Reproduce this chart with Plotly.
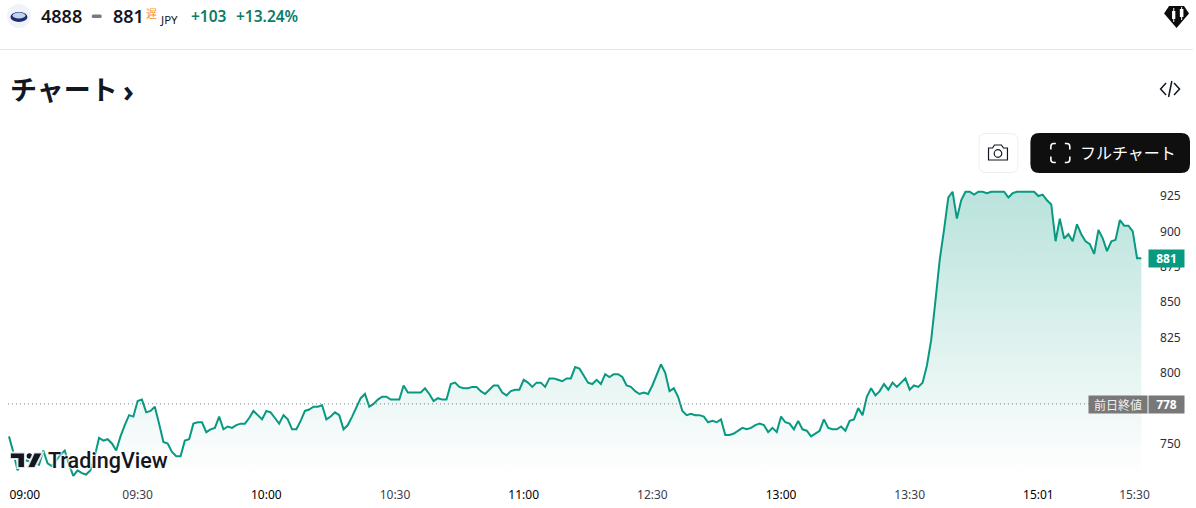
import plotly.graph_objects as go

W, H = 1196, 508

# one close per minute of session
prices = [
    755, 744, 731, 736, 738, 737, 736, 735, 745, 736, 734, 738, 742, 745, 735, 727, 731, 729, 728, 731,
    741, 754, 752, 753, 750, 745, 755, 763, 770, 769, 780, 781, 772, 773, 776, 764, 751, 750, 744, 741,
    741, 752, 753, 764, 765, 765, 758, 760, 761, 769, 760, 762, 761, 763, 764, 764, 768, 773, 770, 767,
    773, 772, 768, 764, 770, 767, 760, 760, 766, 773, 774, 776, 776, 777, 767, 769, 772, 770, 760, 763,
    769, 775, 782, 785, 776, 778, 781, 783, 783, 781, 781, 781, 791, 786, 786, 786, 786, 789, 785, 780,
    782, 781, 781, 792, 793, 790, 789, 789, 790, 790, 787, 785, 788, 791, 791, 786, 784, 787, 788, 788,
    795, 793, 790, 793, 793, 790, 796, 796, 795, 794, 796, 796, 804, 803, 798, 793, 792, 795, 792, 799,
    797, 799, 799, 797, 791, 790, 787, 785, 786, 785, 791, 798, 806, 800, 787, 789, 783, 773, 770, 771,
    770, 770, 769, 765, 766, 765, 767, 756, 756, 757, 759, 761, 760, 761, 763, 764, 763, 758, 761, 758,
    769, 765, 764, 760, 766, 760, 759, 755, 757, 759, 767, 761, 760, 760, 762, 759, 766, 767, 775, 770,
    783, 789, 784, 787, 792, 788, 793, 790, 793, 796, 788, 791, 790, 793, 805, 823, 851, 880, 901, 924,
    928, 909, 922, 928, 928, 926, 928, 928, 927, 928, 928, 928, 928, 924, 927, 928, 928, 928, 928, 928,
    925, 926, 922, 919, 893, 909, 895, 898, 893, 905, 898, 893, 891, 884, 901, 895, 886, 893, 894, 908,
    904, 904, 900, 881, 881,
]
minutes = list(range(len(prices)))

# hour labels are darker than the half hour ones
DARK = '<span style="color:#000000">%s</span>'
x_tick_pos = [3.7, 30, 60, 90, 120, 150, 180, 210, 240, 262.4]
x_tick_text = [DARK % "09:00", "09:30", DARK % "10:00", "10:30", DARK % "11:00", "12:30",
               DARK % "13:00", "13:30", DARK % "15:01", "15:30"]
y_ticks = [750, 800, 825, 850, 875, 900, 925]

last_price = 881
prev_close = 778

UP = "#089981"
FONT = "Noto Sans"
JP_FONT = "Noto Sans CJK JP"

# pixel <-> data scale of the chart pane
PX_PER_MIN = 4.3
PX_PER_YEN = 1.414
PANE_TOP, PANE_BOTTOM, PANE_RIGHT = 178, 480, 1150


def y_val(py):
    return 925 - (py - 196) / PX_PER_YEN


def px(x):
    return x / W


def py(y):
    return 1 - y / H


def pt(x, y):
    return f"{px(x):.5f},{py(y):.5f}"


def poly(points, close=True):
    d = "M" + " L".join(pt(x, y) for x, y in points)
    return d + (" Z" if close else "")


def round_rect(x0, y0, x1, y1, r):
    c = [(x0 + r, y0), (x1 - r, y0), (x1, y0), (x1, y0 + r), (x1, y1 - r), (x1, y1), (x1 - r, y1),
         (x0 + r, y1), (x0, y1), (x0, y1 - r), (x0, y0 + r), (x0, y0), (x0 + r, y0)]
    f = [pt(a, b) for a, b in c]
    return (f"M{f[0]} L{f[1]} Q{f[2]} {f[3]} L{f[4]} Q{f[5]} {f[6]} L{f[7]} "
            f"Q{f[8]} {f[9]} L{f[10]} Q{f[11]} {f[12]} Z")


def path(d, fill="rgba(0,0,0,0)", line=None, width=1):
    return dict(type="path", xref="paper", yref="paper", path=d, fillcolor=fill,
                line=dict(color=line or "rgba(0,0,0,0)", width=width if line else 0), layer="above")


def circle(cx, cy, r, fill="rgba(0,0,0,0)", line=None, width=1, ry=None):
    ry = ry or r
    return dict(type="circle", xref="paper", yref="paper", x0=px(cx - r), x1=px(cx + r),
                y0=py(cy + ry), y1=py(cy - ry), fillcolor=fill,
                line=dict(color=line or "rgba(0,0,0,0)", width=width if line else 0), layer="above")


def label(x, y, text, size, color="#131722", weight=400, anchor="left", family=FONT, **kw):
    return dict(xref="paper", yref="paper", x=px(x), y=py(y), text=text, showarrow=False,
                xanchor=anchor, yanchor="middle", borderpad=0,
                font=dict(family=family, size=size, color=color, weight=weight, **kw))


def tag(cx, w, y, text, bg, family=FONT, color="#ffffff", size=12):
    return dict(xref="paper", yref="paper", x=px(cx), y=py(y), text=text, showarrow=False,
                xanchor="center", yanchor="middle", width=w, height=17, bgcolor=bg, borderpad=0,
                font=dict(family=family, size=size, color=color))


fig = go.Figure()
fig.add_trace(go.Scatter(
    x=minutes, y=prices, mode="lines", line=dict(color=UP, width=2), fill="tozeroy",
    fillgradient=dict(type="vertical", start=y_val(PANE_BOTTOM - 4), stop=928,
                      colorscale=[[0, "rgba(8,153,129,0)"], [1, "rgba(8,153,129,0.28)"]]),
    hoverinfo="skip", showlegend=False,
))

shapes = [
    # header rule
    dict(type="line", xref="paper", yref="paper", x0=0, x1=1, y0=py(49.5), y1=py(49.5),
         line=dict(color="#e8e8e8", width=1)),
    # previous close
    dict(type="line", xref="paper", yref="y", x0=px(8), x1=px(1092), y0=prev_close, y1=prev_close,
         line=dict(color="#777b84", width=1, dash="1px,3px")),
    # symbol logo
    circle(19, 16, 12, fill="#f0f3fa"),
    circle(19, 17, 8.5, fill="#232a6e", ry=5),
    circle(19, 15.5, 6.5, fill="#b9d6ea", ry=3),
    path(round_rect(92, 14.5, 102, 18, 1.5), fill="#787b86"),
    # tv logo
    path(poly([(10, 452.5), (25, 452.5), (25, 468), (17.5, 468), (17.5, 459), (10, 459)]), fill="#131722",
         line="rgba(255,255,255,0.85)", width=2),
    circle(29.5, 456, 2.8, fill="#131722"),
    path(poly([(34, 452.5), (43, 452.5), (35, 468), (27, 468)]), fill="#131722",
         line="rgba(255,255,255,0.85)", width=2),
    # pro badge top right
    path(poly([(1172, 6), (1187, 6), (1192, 13.5), (1179.5, 28), (1167, 13.5)]), fill="#0c0c0c"),
    path(poly([(1175, 11), (1178.3, 11), (1178.3, 19), (1175, 19)]), fill="#ffffff"),
    path(poly([(1176.2, 8), (1177.2, 8), (1177.2, 22), (1176.2, 22)]), fill="#ffffff"),
    path(poly([(1182.8, 9), (1186.4, 9), (1186.4, 17), (1182.8, 17)]), fill="#ffffff"),
    path(poly([(1184.1, 7), (1185.1, 7), (1185.1, 20), (1184.1, 20)]), fill="#ffffff"),
    # embed icon
    path(poly([(1169, 83), (1163.5, 89), (1169, 95)], close=False), line="#131722", width=1.5),
    path(poly([(1177, 83), (1182.5, 89), (1177, 95)], close=False), line="#131722", width=1.5),
    path(poly([(1174.8, 81), (1171.5, 97)], close=False), line="#131722", width=1.5),
    # camera button
    path(round_rect(981.5, 133.5, 1020.5, 172.5, 7), fill="#ffffff", line="#eeeeee"),
    path(poly([(991, 148), (995, 148), (997, 145), (1004, 145), (1006, 148), (1010, 148), (1010, 160), (991, 160)]),
         line="#131722", width=1.2),
    circle(1000.5, 153.5, 3.8, line="#131722", width=1.2),
    # full chart button
    path(round_rect(1033, 133, 1193, 173, 9), fill="#0f0f0f"),
]
# corner brackets of the full chart icon
for sx, sy in [(-1, -1), (1, -1), (-1, 1), (1, 1)]:
    cx, cy = 1063 + sx * 9.5, 153 + sy * 9.5
    d = (f"M{pt(cx, cy - sy * 6)} L{pt(cx, cy - sy * 3)} Q{pt(cx, cy)} {pt(cx - sx * 3, cy)} "
         f"L{pt(cx - sx * 5, cy)}")
    shapes.append(path(d, line="#ffffff", width=1.6))

annotations = [
    label(40, 16, "4888", 18, weight=600),
    label(112, 16, "881", 18, weight=600),
    label(145, 13, "遅", 11, color="#f7931a", family=JP_FONT),
    label(159, 19, "JPY", 11.5),
    label(190, 16, "+103", 15.5, color="#0a7d6a", weight=600),
    label(236, 16, "+13.24%", 15.5, color="#0a7d6a", weight=600),
    label(9, 88, "チャート", 27, weight=700, family=JP_FONT),
    label(122, 90, "›", 30, weight=700),
    label(1082, 152, "フルチャート", 16, color="#ffffff", family=JP_FONT),
    label(47, 460, "TradingView", 21.5, weight=500, family="Roboto",
          shadow="0 0 2px #ffffff, 0 0 2px #ffffff, 0 0 3px #ffffff, 0 0 3px #ffffff"),
    tag(1169.5, 35, 258.5, f"<b>{last_price}</b>", UP),
    tag(1121, 58, 404, "前日終値", "#787878", family=JP_FONT, color="#f0f0f0"),
    tag(1169.5, 35, 404, f"<b>{prev_close}</b>", "#787878"),
]

fig.update_layout(
    width=W, height=H, margin=dict(l=0, r=0, t=0, b=0),
    paper_bgcolor="#ffffff", plot_bgcolor="#ffffff",
    shapes=shapes, annotations=annotations, showlegend=False,
    font=dict(family=FONT, size=12, color="#131722"),
    xaxis=dict(
        domain=[0, PANE_RIGHT / W],
        range=[-9 / PX_PER_MIN, (PANE_RIGHT - 9) / PX_PER_MIN],
        tickmode="array", tickvals=x_tick_pos, ticktext=x_tick_text,
        showgrid=False, zeroline=False, showline=False, ticks="", ticklabelstandoff=6,
        tickfont=dict(size=12, color="#3c404b"),
    ),
    yaxis=dict(
        domain=[1 - PANE_BOTTOM / H, 1 - PANE_TOP / H],
        range=[y_val(PANE_BOTTOM), y_val(PANE_TOP)],
        side="right", tickmode="array", tickvals=y_ticks, ticktext=[str(v) for v in y_ticks],
        showgrid=False, zeroline=False, showline=False, ticks="", ticklabelstandoff=12,
        tickfont=dict(size=12, color="#2a2e39"),
    ),
)

fig.write_html("out.html", config=dict(displayModeBar=False),
               post_script="document.body.style.margin='0';")
